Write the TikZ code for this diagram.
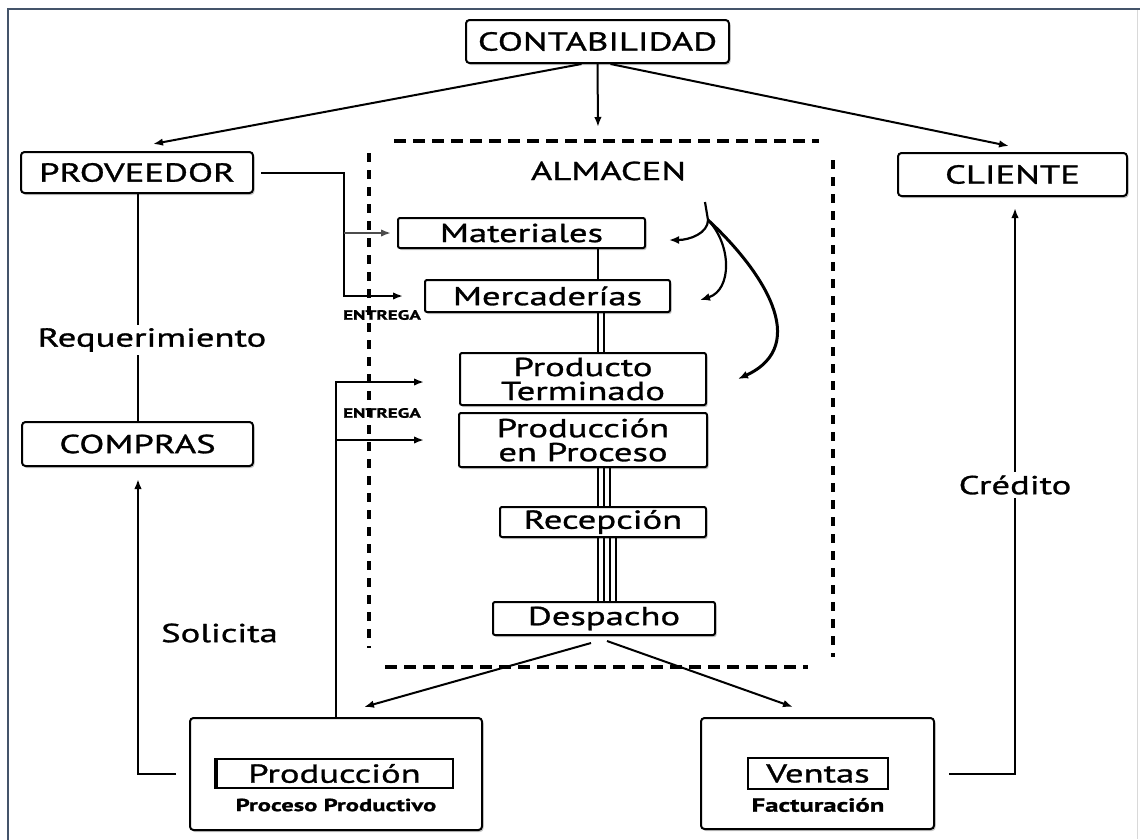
\documentclass[tikz,border=0pt]{standalone}
\usepackage{fontspec}
\setmainfont[FakeStretch=1.41, FakeBold=1.1]{PT Sans}
\usetikzlibrary{arrows.meta,shadows}

\tikzset{
  box/.style={draw, line width=2pt, rounded corners=3.5pt, fill=white, inner sep=0pt,
    drop shadow={shadow xshift=1.5pt, shadow yshift=-2pt, opacity=0.45}},
  invbox/.style={box, rounded corners=2pt},
  lbl/.style={font=\fontsize{26}{24}\selectfont},
  caps/.style={font=\fontsize{26}{24}\selectfont},
  tiny/.style={font=\fontsize{13.5}{14}\selectfont\bfseries},
  conn/.style={line width=2pt},
  arr/.style={conn, -{Latex[length=10pt,width=7.5pt]}},
  curv/.style={line width=2.2pt, -{Latex[length=10pt,width=8pt]}},
  hzone/.style={line width=3.2pt, dash pattern=on 12pt off 7pt},
  vzone/.style={line width=3.2pt, dash pattern=on 9pt off 8pt},
}

\begin{document}
\begin{tikzpicture}[x=1pt,y=-1pt]
\useasboundingbox (0,0) rectangle (1140,839);

% page frame
\draw[color={rgb,255:red,68;green,84;blue,106}, line width=2.4pt] (8,845) -- (8,9) -- (1140,9);
\draw[gray!30, line width=1pt] (1137,10) -- (1137,839);

% top level units
\node[box, caps, minimum width=263pt, minimum height=43pt] (cont) at (597.5,41.5) {CONTABILIDAD};
\node[box, caps, minimum width=232pt, minimum height=41pt] (prov) at (137,172.5) {PROVEEDOR};
\node[box, caps, minimum width=229pt, minimum height=43pt] (cli) at (1012.5,174.5) {CLIENTE};
\node[box, caps, minimum width=231pt, minimum height=44pt] (comp) at (137.5,444) {COMPRAS};

% warehouse zone
\draw[hzone] (394,141) -- (819,141);
\draw[vzone] (369,153) -- (369,648);
\draw[vzone] (833,160) -- (833,657);
\draw[hzone] (385,667) -- (808,667);
\node[caps] (alm) at (608.5,171) {ALMACEN};

\node[invbox, lbl, minimum width=247pt, minimum height=30pt] (mat) at (521.5,233) {Materiales};
\node[invbox, lbl, minimum width=245pt, minimum height=32pt] (merc) at (547.5,296) {Mercaderías};
\node[invbox, lbl, minimum width=246pt, minimum height=52pt, align=center] (pt) at (583,379) {Producto\\Terminado};
\node[invbox, lbl, minimum width=248pt, minimum height=54pt, align=center] (pep) at (583,440) {Producción\\en Proceso};
\node[invbox, lbl, minimum width=206pt, minimum height=30pt] (rec) at (603,522) {Recepción};
\node[invbox, lbl, minimum width=222pt, minimum height=33pt] (desp) at (604,618.5) {Despacho};

% stacked links inside the warehouse
\coordinate (c1) at (598,0);
\coordinate (c2) at (604,0);
\coordinate (c3) at (610,0);
\coordinate (c4) at (616,0);
\draw[conn] (c1 |- mat.south) -- (c1 |- merc.north);
\foreach \c in {c1,c2} \draw[conn] (\c |- merc.south) -- (\c |- pt.north);
\foreach \c in {c1,c2,c3} \draw[conn] (\c |- pep.south) -- (\c |- rec.north);
\foreach \c in {c1,c2,c3,c4} \draw[conn] (\c |- rec.south) -- (\c |- desp.north);

% production and sales units
\node[box, minimum width=292pt, minimum height=112pt] (prod) at (336,774) {};
\node[draw, line width=1.6pt, lbl, minimum width=237pt, minimum height=29pt, inner sep=0pt] (prodin) at (334.5,773.5) {Producción};
\draw[line width=3.5pt] ([xshift=1pt]prodin.south west) -- ([xshift=1pt]prodin.north west);
\node[font=\fontsize{17.5}{20}\selectfont\bfseries] (prodtx) at (336,805) {Proceso Productivo};
\node[box, minimum width=233pt, minimum height=111pt] (vent) at (817.5,773.5) {};
\node[draw, line width=2pt, lbl, minimum width=140pt, minimum height=31pt, inner sep=0pt] (ventin) at (818,773.5) {Ventas};
\node[font=\fontsize{19}{20}\selectfont\bfseries] (venttx) at (818,805) {Facturación};

% labels
\node[lbl] (req) at (152,340) {Requerimiento};
\node[lbl] (sol) at (219.5,633) {Solicita};
\node[lbl] (cred) at (1015,485) {Crédito};
\node[tiny] (ent1) at (382,315) {ENTREGA};
\node[tiny] (ent2) at (382,413) {ENTREGA};

% accounting distribution
\coordinate (almtop) at (598,127);
\draw[arr] (cont.south) -- (almtop);
\draw[arr] ([xshift=-16pt]cont.south) -- ([xshift=16pt,yshift=7pt]prov.north);
\draw[arr] ([xshift=13pt]cont.south) -- ([xshift=-3.5pt,yshift=6pt]cli.north);

% supplier deliveries
\coordinate (pbend) at (344,0);
\draw[arr] ([xshift=7pt]prov.east) -| (pbend |- merc.west) -- ([xshift=-21pt]merc.west);
\draw[arr, gray!60!black] (pbend |- mat.west) -- ([xshift=-6pt]mat.west);

% production deliveries
\draw[arr] (prod.north) |- ([xshift=-35pt,yshift=-3pt]pt.west);
\draw[arr] (prod.north |- pep.west) -- ([xshift=-34pt]pep.west);

% requests
\draw[conn] ([xshift=1pt]prov.south) -- ([xshift=1pt]prov.south |- req.north);
\draw[conn] ([xshift=1pt]prov.south |- req.south) -- ([xshift=0.5pt]comp.north);
\draw[arr] ([xshift=-13pt]prod.west) -| ([xshift=0.5pt,yshift=-12pt]comp.south);

% credit
\draw[conn] ([xshift=14pt]vent.east) -| (cred.south);
\draw[arr] (cred.north) -- ([yshift=-11pt]cli.south -| cred);

% dispatch
\draw[arr] ([xshift=-13pt,yshift=-7pt]desp.south) -- ([xshift=28pt,yshift=10pt]prod.north);
\draw[arr] ([xshift=3pt,yshift=-5pt]desp.south) -- ([xshift=-24.5pt,yshift=10pt]vent.north);

% internal stock flows
\coordinate (ctop) at (705,202);
\coordinate (cfork) at (708,220);
\draw[curv] (ctop) -- (cfork) .. controls (708,233) and (690,240) .. ([xshift=23pt,yshift=-7pt]mat.east);
\draw[curv] (cfork) .. controls (732,245) and (732,290) .. ([xshift=29pt,yshift=-4pt]merc.east);
\draw[curv, line width=3pt] (cfork) .. controls (762,270) and (812,345) .. ([xshift=31pt]pt.east);
\end{tikzpicture}
\end{document}
